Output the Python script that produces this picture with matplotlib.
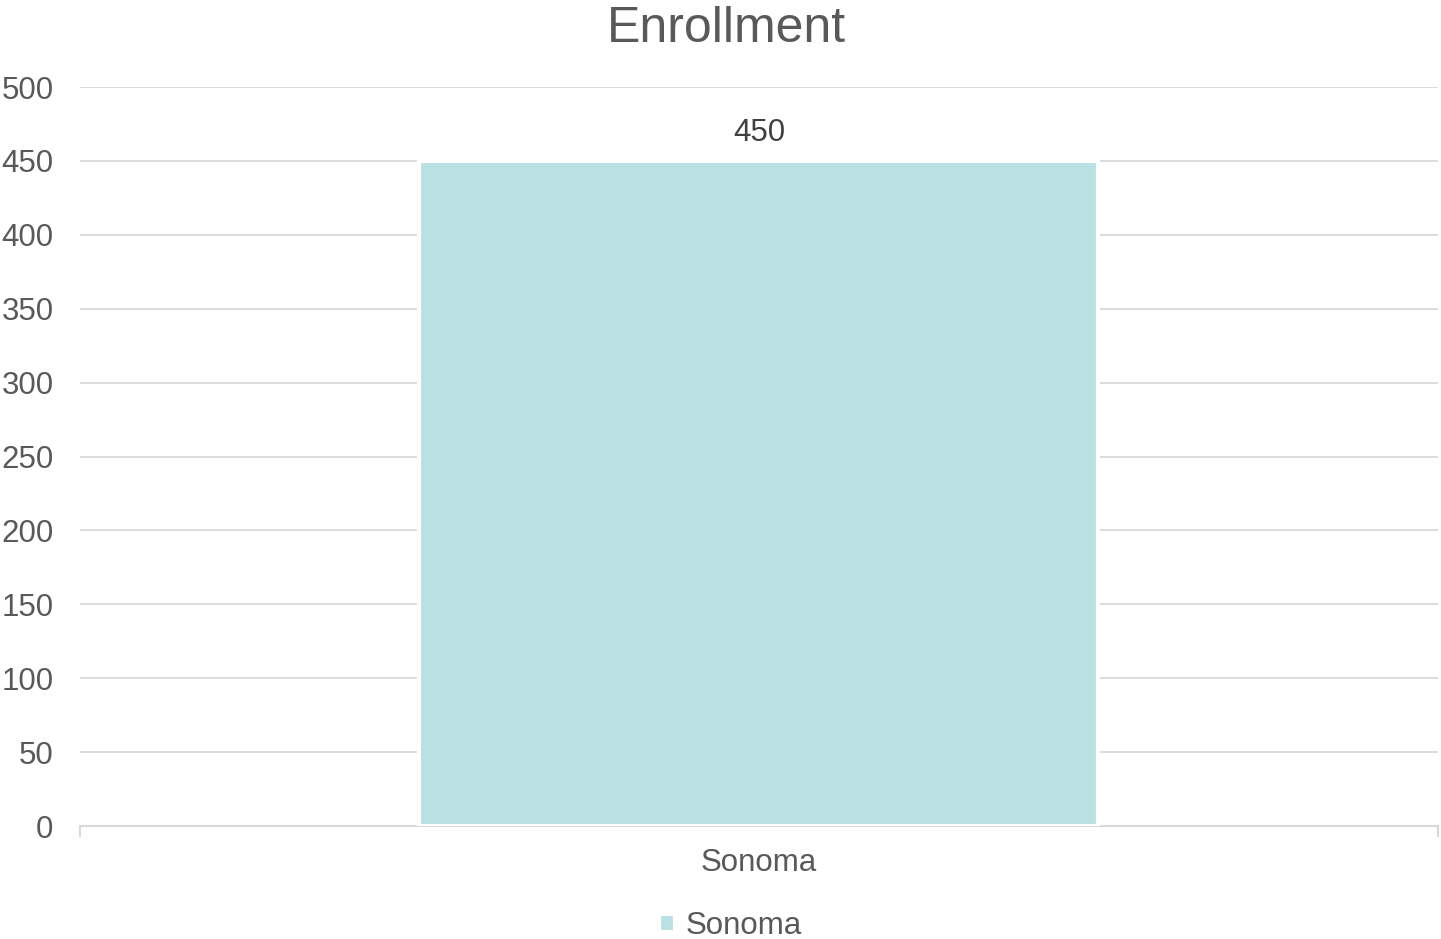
import matplotlib.pyplot as plt

plt.rcParams['font.family'] = ['Liberation Sans', 'DejaVu Sans']

# data
categories = ['Sonoma']
enrollment = [450]
yticks = [0, 50, 100, 150, 200, 250, 300, 350, 400, 450, 500]

text_color = '#595959'
grid_color = '#D9D9D9'
bar_color = '#B9E0E3'

fig = plt.figure(figsize=(14.41, 9.39), dpi=100)
ax = fig.add_axes([0.0555, 0.1203, 0.9424, 0.787])

bars = ax.bar(categories, enrollment, width=0.5, color=bar_color,
              edgecolor='white', linewidth=3, label='Sonoma', zorder=3)
ax.bar_label(bars, padding=9, fontsize=22.5, color='#404040')

ax.set_xlim(-0.5, 0.5)
ax.set_ylim(0, 500)
ax.set_yticks(yticks)
ax.yaxis.grid(True, color=grid_color, linewidth=1.3, zorder=0)
ax.set_axisbelow(True)

for s in ['top', 'right', 'left']:
    ax.spines[s].set_visible(False)
ax.spines['bottom'].set_color(grid_color)
ax.spines['bottom'].set_linewidth(1.5)

ax.tick_params(axis='y', length=0, labelsize=22.5, labelcolor=text_color, pad=19)
ax.tick_params(axis='x', length=0, labelsize=22.5, labelcolor=text_color, pad=16)

# small end ticks on category axis
for xe in [-0.5, 0.5]:
    ax.plot([xe, xe], [0, -7], color=grid_color, linewidth=1.5, clip_on=False)

fig.text(0.504, 0.955, 'Enrollment', fontsize=36, color=text_color,
         ha='center', va='baseline')

leg = fig.legend(loc='center', bbox_to_anchor=(0.507, 0.014), frameon=False,
                 fontsize=22.5, handlelength=0.5, handleheight=0.5,
                 handletextpad=0.35)
for t in leg.get_texts():
    t.set_color(text_color)

fig.savefig('out.png', dpi=100)
